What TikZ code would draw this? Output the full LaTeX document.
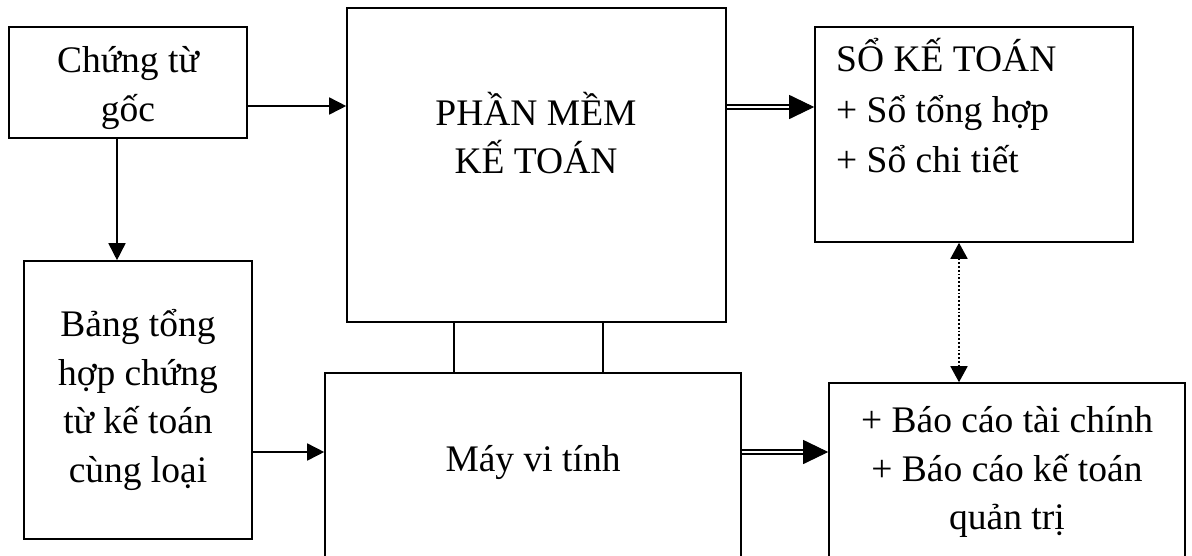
\documentclass[tikz,border=0pt]{standalone}
\usepackage{fontspec}
\setmainfont{Liberation Serif}
\usepackage{tikz}
\usetikzlibrary{arrows.meta}

\tikzset{
  box/.style={draw, line width=1.6pt, inner sep=0pt},
  txt/.style={font=\fontsize{37.5}{48.5}\selectfont, align=center, inner sep=0pt},
  arr/.style={line width=1.6pt, -{Triangle[length=17pt,width=17pt]}},
  dbl/.style={double, line width=1.4pt, double distance=2.6pt},
  bigtip/.style={line width=1pt, -{Triangle[length=25pt,width=24pt]}},
  dots/.style={line width=1.8pt, dash pattern=on 1.8pt off 2pt, {Triangle[length=16pt,width=17pt]}-{Triangle[length=16pt,width=17pt]}},
}

\begin{document}
\begin{tikzpicture}[x=1pt,y=-1pt]
    \useasboundingbox (0,0) rectangle (1192,555);
    \clip (0,0) rectangle (1192,555);

    % boxes
    \node[box, minimum width=238pt, minimum height=111pt] (goc) at (128,82.5) {};
    \node[box, minimum width=379pt, minimum height=314pt] (pm) at (536.5,165) {};
    \node[box, minimum width=318pt, minimum height=215pt] (so) at (974,134.5) {};
    \node[box, minimum width=228pt, minimum height=278pt] (bang) at (138,400) {};
    \node[box, minimum width=416pt, minimum height=227pt] (may) at (533,486.5) {};
    \node[box, minimum width=356pt, minimum height=217pt] (bc) at (1007,491.5) {};

    % texts
    \node[txt] (tgoc) at (128,88) {Chứng từ\\gốc};
    \node[txt] (tpm) at (536,133) {PHẦN MỀM\\KẾ TOÁN};
    \node[txt, align=left, anchor=west] (tso) at (836,106) {SỔ KẾ TOÁN\\[2pt]+ Sổ tổng hợp\\[2pt]+ Sổ chi tiết};
    \node[txt] (tbang) at (138,400) {Bảng tổng\\hợp chứng\\từ kế toán\\cùng loại};
    \node[txt] (tmay) at (533,463) {Máy vi tính};
    \node[txt] (tbc) at (1007,472) {+ Báo cáo tài chính\\+ Báo cáo kế toán\\quản trị};

    % links
    \draw[arr] (goc.east |- 0,106) -- (pm.west |- 0,106);
    \draw[arr] (goc.south -| 117,0) -- (bang.north -| 117,0);
    \draw[arr] (bang.east |- 0,452) -- (may.west |- 0,452);

    \coordinate (s1) at (so.west |- 0,107);
    \draw[dbl, shorten >=22pt] (pm.east |- 0,107) -- (s1);
    \draw[bigtip] ([xshift=-25pt]s1) -- (s1);

    \coordinate (s2) at (bc.west |- 0,452);
    \draw[dbl, shorten >=22pt] (may.east |- 0,452) -- (s2);
    \draw[bigtip] ([xshift=-25pt]s2) -- (s2);

    \draw[dots] (so.south -| 959,0) -- (bc.north -| 959,0);

    \draw[box] (pm.south -| 454,0) -- (may.north -| 454,0);
    \draw[box] (pm.south -| 603,0) -- (may.north -| 603,0);
\end{tikzpicture}
\end{document}
